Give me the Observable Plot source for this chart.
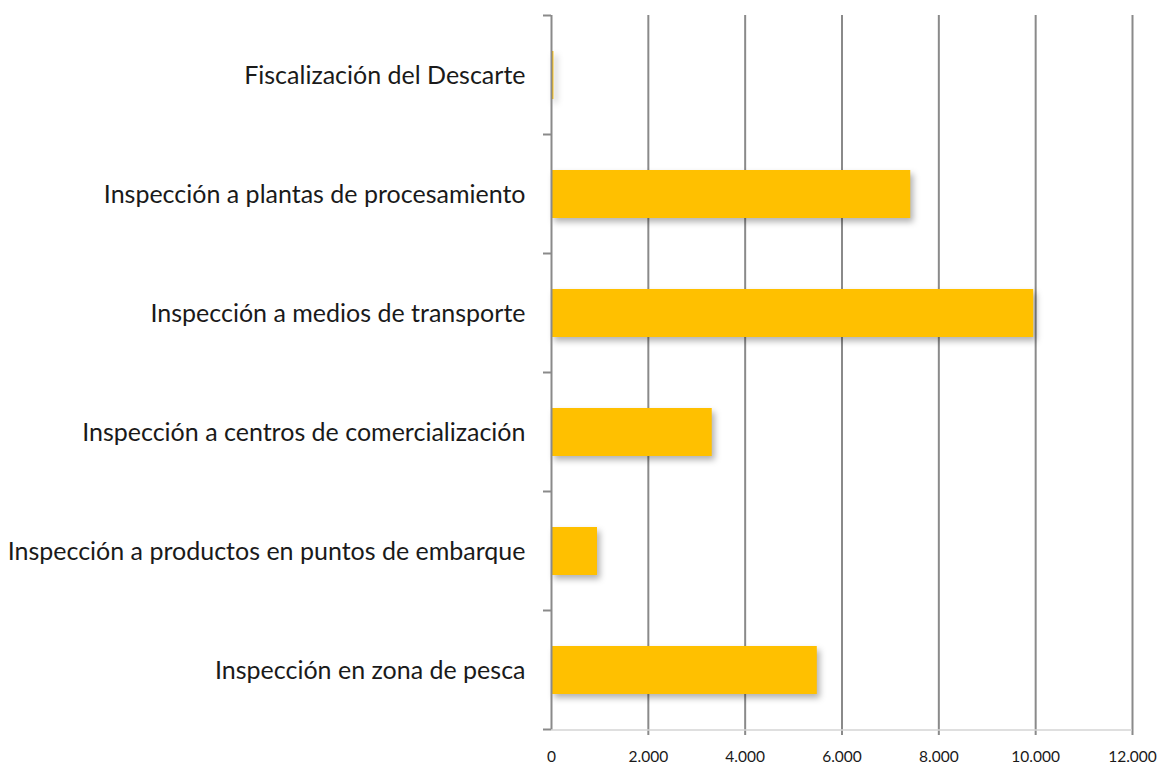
<!DOCTYPE html>
<html>
<head>
<meta charset="utf-8">
<script src="https://cdn.jsdelivr.net/npm/d3@7"></script>
<script src="https://cdn.jsdelivr.net/npm/@observablehq/plot@0.6"></script>
<style>
  html, body { margin: 0; padding: 0; background: #fff; }
  #chart svg { display: block; }
</style>
</head>
<body>
<div id="chart"></div>
<script>
const categories = [
  "Fiscalización del Descarte",
  "Inspección a plantas de procesamiento",
  "Inspección a medios de transporte",
  "Inspección a centros de comercialización",
  "Inspección a productos en puntos de embarque",
  "Inspección en zona de pesca"
];
const values = [50, 7420, 9960, 3320, 950, 5490];
const xTicks = [0, 2000, 4000, 6000, 8000, 10000, 12000];

const data = categories.map((c, i) => ({category: c, value: values[i]}));
const fmt = d => d3.format(",")(d).replace(/,/g, ".");

// boundary ticks between categories (Excel style)
function boundaryTicks(index, scales, values, dimensions) {
  const y = scales.y;
  const g = d3.create("svg:g");
  const step = y.step();
  const bw = y.bandwidth();
  const x0 = scales.x(0);
  const bounds = categories.map(c => y(c) - (step - bw) / 2);
  bounds.push(y(categories[categories.length - 1]) + bw + (step - bw) / 2);
  g.selectAll("line").data(bounds).join("line")
    .attr("x1", x0 - 8).attr("x2", x0)
    .attr("y1", d => d).attr("y2", d => d)
    .attr("stroke", "#8a8a8a").attr("stroke-width", 2);
  return g.node();
}

const chart = Plot.plot({
  width: 1162,
  height: 764,
  marginLeft: 551,
  marginRight: 30,
  marginTop: 15,
  marginBottom: 34,
  style: {fontFamily: "Lato, 'Noto Sans', sans-serif", background: "#fff", overflow: "visible"},
  x: {domain: [0, 12000], label: null},
  y: {domain: categories, paddingInner: 0.6, paddingOuter: 0.3, label: null},
  marks: [
    Plot.ruleX(xTicks.slice(1), {stroke: "#8a8a8a", strokeWidth: 2, insetBottom: -5}),
    Plot.barX(data, {y: "category", x: "value", fill: "#FFC000", className: "bars"}),
    Plot.ruleX([0], {stroke: "#8a8a8a", strokeWidth: 2}),
    boundaryTicks,
    Plot.axisX({
      ticks: xTicks, tickFormat: fmt, tickSize: 0, tickPadding: 20,
      fontSize: 15.5, fill: "#1a1a1a", label: null
    }),
    Plot.axisY({
      tickSize: 0, tickPadding: 26, fontSize: 25, fill: "#1a1a1a", label: null
    })
  ]
});

// bottom axis line (light gray)
const sx = chart.scale("x");
d3.select(chart).append("line")
  .attr("x1", sx.apply(0)).attr("x2", sx.apply(12000))
  .attr("y1", 730).attr("y2", 730)
  .attr("stroke", "#d4d4d4").attr("stroke-width", 1.5);

d3.select(chart).selectAll("g.bars")
  .style("filter", "drop-shadow(3px 4px 3px rgba(0,0,0,0.3))");

document.getElementById("chart").appendChild(chart);
</script>
</body>
</html>
